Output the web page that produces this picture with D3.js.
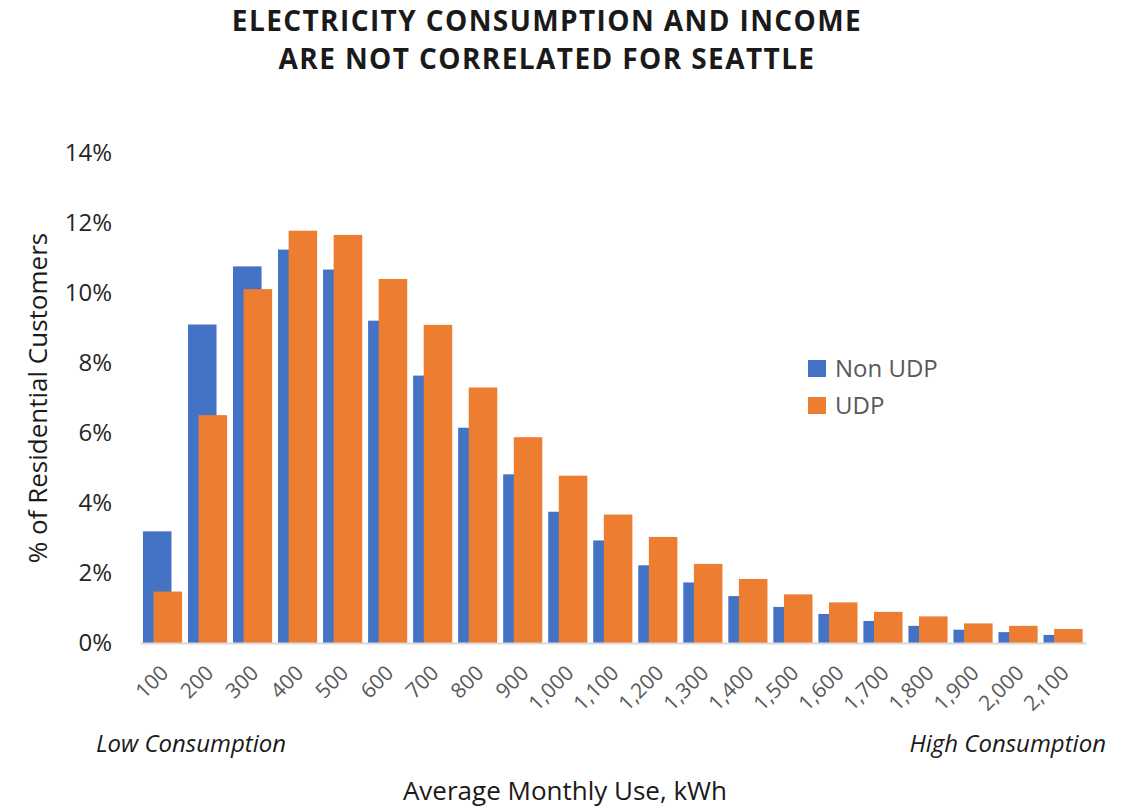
<!DOCTYPE html>
<html lang="en">
<head>
  <meta charset="utf-8">
  <title>Electricity consumption and income</title>
  <script src="https://d3js.org/d3.v7.min.js"></script>
  <style>
    body { margin: 0; background: #fff; }
    svg { font-family: "Open Sans", sans-serif; }
  </style>
</head>
<body>
<script>
  // monthly use buckets (kWh) and share of residential customers (%)
  var categories = ["100","200","300","400","500","600","700","800","900","1,000","1,100",
                    "1,200","1,300","1,400","1,500","1,600","1,700","1,800","1,900","2,000","2,100"];
  var nonUdp = [3.19, 9.10, 10.76, 11.24, 10.67, 9.21, 7.64, 6.15, 4.82, 3.75, 2.93,
                2.22, 1.73, 1.34, 1.03, 0.83, 0.63, 0.49, 0.38, 0.31, 0.23];
  var udp = [1.47, 6.51, 10.11, 11.78, 11.66, 10.40, 9.09, 7.30, 5.88, 4.78, 3.67,
             3.03, 2.26, 1.83, 1.39, 1.16, 0.89, 0.76, 0.56, 0.49, 0.40];
  var seriesNames = ["Non UDP", "UDP"];
  var colors = ["#4472c4", "#ed7d31"];
  var yTicks = [0, 2, 4, 6, 8, 10, 12, 14];

  var w = 1133, h = 808;

  var svg = d3.select("body").append("svg")
    .attr("width", w)
    .attr("height", h);

  var x = d3.scaleBand()
    .domain(categories)
    .range([140, 1085.6])
    .padding(0);

  var y = d3.scaleLinear()
    .domain([0, 14])
    .range([643, 153]);

  var bw = x.bandwidth();
  var barW = bw * 0.634;
  var shift = bw * 0.235;          // orange bar overlaps the blue one
  var lead = (bw - barW - shift) / 2;

  // title
  svg.append("text")
    .attr("x", 547).attr("y", 31)
    .attr("text-anchor", "middle")
    .style("letter-spacing", "1.4px")
    .style("font-weight", "bold").style("font-size", "28px").attr("fill", "#1a1a1a")
    .text("ELECTRICITY CONSUMPTION AND INCOME");
  svg.append("text")
    .attr("x", 547).attr("y", 69)
    .attr("text-anchor", "middle")
    .style("letter-spacing", "1.4px")
    .style("font-weight", "bold").style("font-size", "28px").attr("fill", "#1a1a1a")
    .text("ARE NOT CORRELATED FOR SEATTLE");

  // bars: blue first, orange drawn over it
  svg.append("g").selectAll("rect")
    .data(nonUdp)
    .enter().append("rect")
    .attr("x", function(d, i) { return x(categories[i]) + lead; })
    .attr("y", function(d) { return y(d); })
    .attr("width", barW)
    .attr("height", function(d) { return y(0) - y(d); })
    .attr("fill", colors[0]);

  svg.append("g").selectAll("rect")
    .data(udp)
    .enter().append("rect")
    .attr("x", function(d, i) { return x(categories[i]) + lead + shift; })
    .attr("y", function(d) { return y(d); })
    .attr("width", barW)
    .attr("height", function(d) { return y(0) - y(d); })
    .attr("fill", colors[1]);

  // y axis (labels only)
  var yAxis = svg.append("g")
    .attr("transform", "translate(112,0)")
    .call(d3.axisLeft(y).tickValues(yTicks).tickSize(0).tickPadding(0)
      .tickFormat(function(d) { return d + "%"; }));
  yAxis.select(".domain").remove();
  yAxis.selectAll("text")
    .style("font-family", "'Open Sans', sans-serif")
    .style("font-size", "24px")
    .attr("fill", "#262626");

  // x axis
  var xAxis = svg.append("g")
    .attr("transform", "translate(0," + y(0) + ")")
    .call(d3.axisBottom(x).tickSize(0).tickPadding(0));
  xAxis.select(".domain")
    .attr("stroke", "#d9d9d9").attr("stroke-width", 2);
  xAxis.selectAll("text")
    .style("font-family", "'Open Sans', sans-serif")
    .style("font-size", "21px")
    .attr("fill", "#595959")
    .attr("text-anchor", "end")
    .attr("dy", "0.35em")
    .attr("transform", "translate(2,26) rotate(-45)");

  // axis titles
  svg.append("text")
    .attr("transform", "translate(47,398) rotate(-90)")
    .attr("text-anchor", "middle")
    .style("font-size", "26px").attr("fill", "#1a1a1a")
    .text("% of Residential Customers");

  svg.append("text")
    .attr("x", 565).attr("y", 800)
    .attr("text-anchor", "middle")
    .style("font-size", "26px").attr("fill", "#1a1a1a")
    .text("Average Monthly Use, kWh");

  svg.append("text")
    .attr("x", 96).attr("y", 752)
    .style("font-size", "24px").style("font-style", "italic").attr("fill", "#1a1a1a")
    .text("Low Consumption");

  svg.append("text")
    .attr("x", 1106).attr("y", 752)
    .attr("text-anchor", "end")
    .style("font-size", "24px").style("font-style", "italic").attr("fill", "#1a1a1a")
    .text("High Consumption");

  // legend
  var legend = svg.append("g").selectAll("g")
    .data(seriesNames)
    .enter().append("g")
    .attr("transform", function(d, i) { return "translate(808," + (360 + i * 37) + ")"; });
  legend.append("rect")
    .attr("width", 18).attr("height", 17)
    .attr("fill", function(d, i) { return colors[i]; });
  legend.append("text")
    .attr("x", 27).attr("y", 9).attr("dy", "0.35em")
    .style("font-size", "24px").attr("fill", "#595959")
    .text(function(d) { return d; });
</script>
</body>
</html>
